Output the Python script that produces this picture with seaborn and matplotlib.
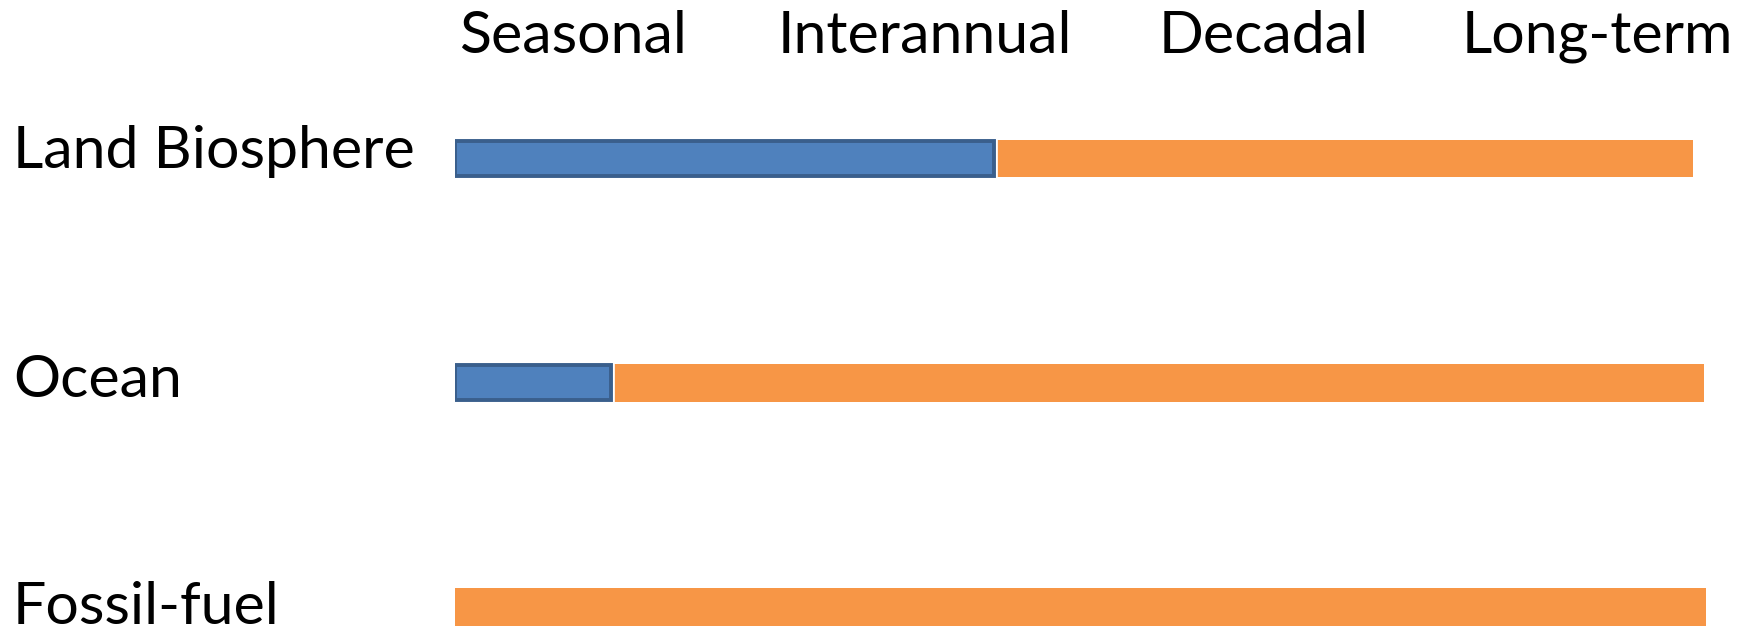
import matplotlib
matplotlib.use("Agg")
import matplotlib.pyplot as plt
import matplotlib.transforms as mtransforms
import matplotlib.patheffects as pe
import numpy as np
import pandas as pd
import seaborn as sns

# ---- data ----
rows = ["Land Biosphere", "Ocean", "Fossil-fuel"]
short_extent = [43.1, 12.5, np.nan]      # blue segment end (timescale units)
total_extent = [98.96, 99.84, 100.0]     # orange segment end
timescales = ["Seasonal", "Interannual", "Decadal", "Long-term"]
timescale_pos = [9.43, 37.57, 64.67, 91.29]

sns.set_theme(style="white")
plt.rcParams["font.family"] = ["Lato", "DejaVu Sans"]

W, H, DPI = 1752, 630, 100
fig = plt.figure(figsize=(W / DPI, H / DPI), dpi=DPI)
left_px, right_px, top_px = 455, 1706, 80
ax = fig.add_axes([left_px / W, 0, (right_px - left_px) / W, (H - top_px) / H])

df = pd.DataFrame({"row": rows, "short": short_extent, "total": total_extent})

sns.barplot(data=df, y="row", x="total", order=rows, orient="h",
            color="#F79646", saturation=1, width=0.168, linewidth=0,
            ax=ax)
n_orange = len(ax.patches)
sns.barplot(data=df.dropna(), y="row", x="short", order=rows, orient="h",
            color="#4F81BD", saturation=1, width=0.155, linewidth=2.8,
            edgecolor="#3A5F8C", ax=ax)
for p in ax.patches[n_orange:]:
    p.set_path_effects([pe.Stroke(linewidth=4.8, foreground="white"), pe.Normal()])

ax.set_xlim(0, 100)
unit = 224.25
ax.set_ylim(2 + 23 / unit, -78.5 / unit)
ax.set_xlabel("")
ax.set_ylabel("")
for s in ax.spines.values():
    s.set_visible(False)

FS = 42.5
# top timescale labels
ax.xaxis.tick_top()
ax.set_xticks(timescale_pos)
ax.set_xticklabels(timescales, fontsize=FS, color="black")
ax.tick_params(axis="x", length=0, pad=12)

# left row labels (left aligned)
pad_pt = (left_px - 13) / DPI * 72
ax.tick_params(axis="y", length=0, pad=pad_pt)
ax.set_yticks(range(len(rows)))
ax.set_yticklabels(rows, fontsize=FS, color="black")
for i, lab in enumerate(ax.get_yticklabels()):
    lab.set_horizontalalignment("left")
    dy = {0: 12, 1: 7, 2: 4}[i]
    lab.set_transform(lab.get_transform() +
                      mtransforms.ScaledTranslation(0, dy / DPI, fig.dpi_scale_trans))

fig.savefig("out.png", dpi=DPI, facecolor="white")
